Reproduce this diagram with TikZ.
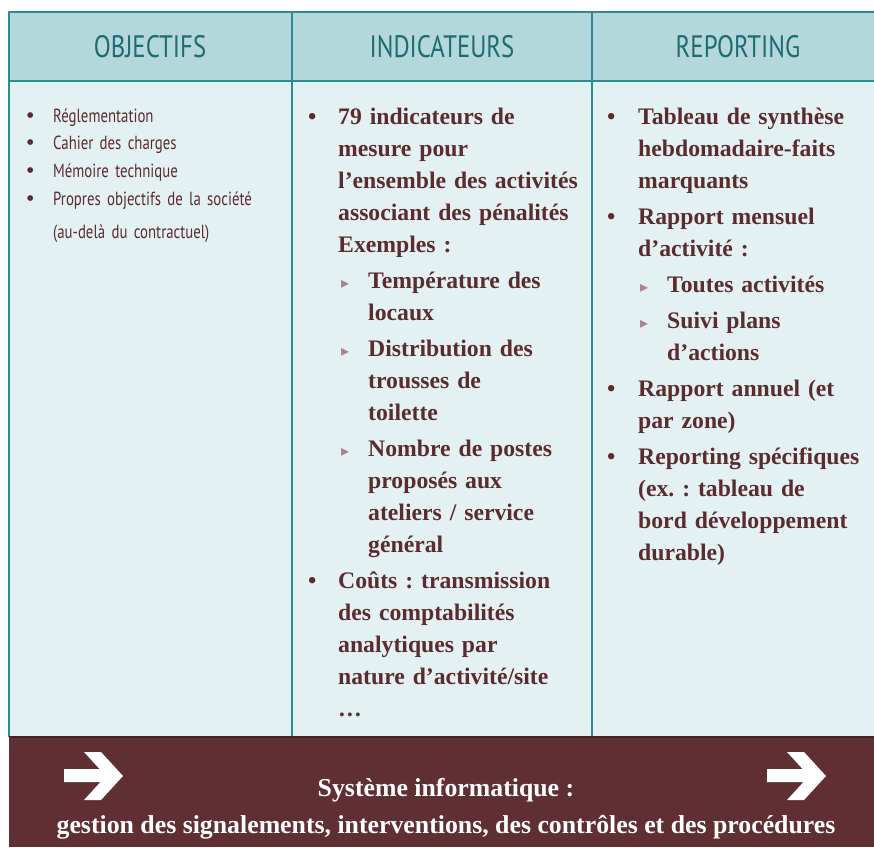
\documentclass[tikz,border=0pt]{standalone}
\usepackage{fontspec}
\setmainfont{Liberation Serif}
\newfontfamily\headfont[FakeStretch=0.8]{PT Sans}
\newfontfamily\listfont[FakeStretch=0.78]{PT Sans}
\newfontfamily\markfont{DejaVu Sans}
\usetikzlibrary{positioning}
\definecolor{HeadFill}{HTML}{B3D7DB}
\definecolor{HeadText}{HTML}{1D6C72}
\definecolor{BodyFill}{HTML}{E4F1F3}
\definecolor{GridLine}{HTML}{2B8C94}
\definecolor{BarFill}{HTML}{5F2F33}
\definecolor{BodyText}{HTML}{5B2C2F}
\definecolor{SubMark}{HTML}{A5868A}
\colorlet{BarText}{white}
% list helpers
\newcommand{\bpoint}[2]{\noindent\hangindent=#1\hangafter=1\makebox[#1][l]{\rmfamily\textbullet}#2\par}
\newcommand{\opoint}[1]{\noindent\hangindent=27pt\hangafter=1\makebox[27pt][l]{\rmfamily\fontsize{24}{24}\selectfont\raisebox{-1pt}{\textbullet}}#1\par}
\newcommand{\spoint}[1]{\noindent\hangindent=60pt\hangafter=1\hspace*{33pt}\makebox[27pt][l]{\color{SubMark}\markfont\fontsize{16}{16}\selectfont ▸}#1\par}
\tikzset{
	colhead/.style = {
		font = \headfont\fontsize{31}{31}\selectfont,
		text = HeadText,
	},
	colbody/.style = {
		anchor     = base west,
		align      = left,
		inner sep  = 0pt,
		text       = BodyText,
		text width = 320pt,
		font       = \bfseries\frenchspacing\fontsize{23.7}{32}\selectfont,
	},
	bartext/.style = {
		align = center,
		text  = BarText,
		font  = \bfseries\frenchspacing\fontsize{25.8}{37}\selectfont,
	},
}

\begin{document}
\begin{tikzpicture}[x=1pt, y=-1pt]
	\useasboundingbox (0,0) rectangle (874,847);

	% table background
	\fill[BodyFill] (9,81) rectangle (874,737);
	\fill[HeadFill] (9,12) rectangle (874,81);
	\fill[BarFill]  (9,737) rectangle (874,847);

	\begin{scope}[draw = GridLine, line width = 1.3pt]
		\draw (874,12) -- (9,12) -- (9,737);
		\draw (9,81) -- (874,81);
		\draw (292,12) -- (292,737);
		\draw (592,12) -- (592,737);
	\end{scope}
	\draw[BarFill!70!black, line width = 1.3pt] (9,737) -- (874,737);

	% headers
	\node[colhead] (objhead) at (150,47) {OBJECTIFS};
	\node[colhead] (indhead) at (442,47) {INDICATEURS};
	\node[colhead] (rephead) at (738,47) {REPORTING};

	% column texts
	\node[colbody, text width = 270pt,
	      font = \listfont\frenchspacing\fontsize{19}{27.7}\selectfont] (objtext) at (26,122) {%
		\opoint{Réglementation}%
		\opoint{Cahier des charges}%
		\opoint{Mémoire technique}%
		\opoint{Propres objectifs de la société\newline\rule{0pt}{28pt}(au-delà du contractuel)}%
	};

	\node[colbody] (indtext) at (308,124) {\parskip=4pt%
		\bpoint{30pt}{79 indicateurs de\newline mesure pour\newline l’ensemble des activités\newline associant des pénalités\newline Exemples :}%
		\spoint{Température des\newline locaux}%
		\spoint{Distribution des\newline trousses de\newline toilette}%
		\spoint{Nombre de postes\newline proposés aux\newline ateliers / service\newline général}%
		\bpoint{30pt}{Coûts : transmission\newline des comptabilités\newline analytiques par\newline nature d’activité/site\newline …}%
	};

	\node[colbody] (reptext) at (607,124) {\parskip=4pt%
		\bpoint{31pt}{Tableau de synthèse\newline hebdomadaire-faits\newline marquants}%
		\bpoint{31pt}{Rapport mensuel\newline d’activité :}%
		\spoint{Toutes activités}%
		\spoint{Suivi plans\newline d’actions}%
		\bpoint{31pt}{Rapport annuel (et\newline par zone)}%
		\bpoint{31pt}{Reporting spécifiques\newline (ex. : tableau de\newline bord développement\newline durable)}%
	};

	% bottom bar
	\node[bartext] (systext) at (446,809) {Système informatique :\\gestion des signalements, interventions, des contrôles et des procédures};

	\foreach \dx in {0,703}
		\fill[white, shift = {(\dx,0)}]
			(64,769) -- (99.6,769) -- (84,752) -- (101,752) -- (123,776)
			-- (101,800) -- (84,800) -- (100.5,782) -- (64,782) -- cycle;
\end{tikzpicture}
\end{document}
